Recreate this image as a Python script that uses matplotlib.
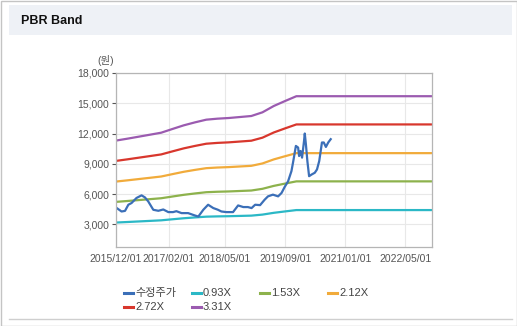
import pandas as pd
import matplotlib
matplotlib.use("Agg")
import matplotlib.pyplot as plt
import matplotlib.dates as mdates
from matplotlib.patches import Rectangle
from matplotlib.lines import Line2D

plt.rcParams['font.family'] = ['Liberation Sans', 'Noto Sans CJK KR', 'DejaVu Sans']

# adjusted share price (수정주가)
price_dates = ["2015-12-07", "2016-01-15", "2016-02-12", "2016-03-10", "2016-04-05", "2016-05-15",
               "2016-06-25", "2016-07-22", "2016-08-18", "2016-09-28", "2016-11-08", "2016-12-18",
               "2017-01-28", "2017-03-07", "2017-04-03", "2017-05-15", "2017-07-07", "2017-09-01",
               "2017-09-28", "2017-11-07", "2017-12-16", "2018-01-27", "2018-03-04", "2018-04-03",
               "2018-05-13", "2018-07-06", "2018-08-16", "2018-09-27", "2018-11-03", "2018-12-03",
               "2019-01-01", "2019-02-10", "2019-03-19", "2019-04-15", "2019-05-25", "2019-07-06",
               "2019-08-03", "2019-08-28", "2019-09-25", "2019-10-22", "2019-11-06", "2019-11-27",
               "2019-12-15", "2019-12-23", "2020-01-04", "2020-01-16", "2020-02-01", "2020-02-07",
               "2020-02-16", "2020-02-28", "2020-03-13", "2020-04-03", "2020-04-28", "2020-05-16",
               "2020-06-03", "2020-06-15", "2020-06-25", "2020-07-10", "2020-07-27", "2020-08-15",
               "2020-09-04"]
price = [4610, 4270, 4330, 4940, 5110, 5610,
         5870, 5670, 5270, 4440, 4340, 4470,
         4210, 4210, 4300, 4110, 4110, 3870,
         3770, 4440, 4940, 4610, 4450, 4270,
         4210, 4210, 4870, 4710, 4710, 4610,
         4940, 4900, 5440, 5770, 5940, 5770,
         6110, 6700, 7270, 8270, 9270, 10770,
         10610, 9770, 10270, 9610, 11270, 12000,
         10940, 9270, 7770, 7940, 8110, 8440,
         9270, 10270, 11110, 11110, 10670, 11110,
         11440]

# book value per share used for the bands
bps_dates = ["2015-12-01", "2016-03-01", "2016-06-01", "2016-09-01", "2016-12-01", "2017-03-01",
             "2017-06-01", "2017-09-01", "2017-12-01", "2018-03-01", "2018-06-01", "2018-09-01",
             "2018-12-01", "2019-03-01", "2019-06-01", "2019-09-01", "2019-12-01", "2022-12-01"]
bps = [3414, 3470, 3530, 3590, 3650, 3760,
       3870, 3960, 4040, 4070, 4090, 4120,
       4150, 4260, 4450, 4600, 4743, 4743]

multiples = [0.93, 1.53, 2.12, 2.72, 3.31]
band_labels = ["0.93X", "1.53X", "2.12X", "2.72X", "3.31X"]
band_colors = ["#2bb8c6", "#8db24c", "#f1ab3b", "#d8372d", "#9b5bb0"]
price_label = "수정주가"
price_color = "#3b6fb8"

y_ticks = [3000, 6000, 9000, 12000, 15000, 18000]
x_ticks = ["2015-12-01", "2017-02-01", "2018-05-01", "2019-09-01", "2021-01-01", "2022-05-01"]

W, H = 517, 326
fig = plt.figure(figsize=(W / 100, H / 100), dpi=100)

def fx(px):
    return px / W

def fy(py):
    return 1 - py / H

# page decoration
fig.patches.append(Rectangle((fx(0.5), fy(325.5)), fx(516), 325 / H, transform=fig.transFigure,
                             fill=False, edgecolor="#c4c4c4", lw=1))
fig.patches.append(Rectangle((fx(9), fy(35)), fx(503), 30 / H, transform=fig.transFigure,
                             facecolor="#eef1f6", edgecolor="none"))
fig.text(fx(21), fy(21), "PBR Band", fontsize=9, fontweight="bold", color="#111111", va="center")
fig.add_artist(Line2D([fx(9), fx(512)], [fy(318.5), fy(318.5)], transform=fig.transFigure,
                      color="#cfcfcf", lw=1))

ax = fig.add_axes([fx(116), fy(247), fx(431.7 - 116), (247 - 73) / H])

pd_price = pd.to_datetime(price_dates)
pd_bps = pd.to_datetime(bps_dates)

for m, lab, col in zip(multiples, band_labels, band_colors):
    ax.plot(pd_bps, [b * m for b in bps], color=col, lw=1.6, solid_capstyle="round")
ax.plot(pd_price, price, color=price_color, lw=1.6)

ax.set_xlim(pd.Timestamp("2015-12-01"), pd.Timestamp("2022-12-01"))
ax.set_ylim(750, 18000)
ax.set_yticks(y_ticks)
ax.set_yticklabels(["{:,}".format(v) for v in y_ticks])
ax.set_xticks(pd.to_datetime(x_ticks))
ax.xaxis.set_major_formatter(mdates.DateFormatter("%Y/%m/%d"))
ax.tick_params(axis="both", labelsize=7.5, colors="#555555", length=3, width=0.8, pad=2)
ax.tick_params(axis="x", length=0, pad=5)
ax.grid(True, color="#e8e8e8", lw=0.8)
ax.set_axisbelow(True)
for s in ax.spines.values():
    s.set_color("#b5b5b5")
    s.set_linewidth(0.9)

fig.text(fx(106), fy(61), "(원)", fontsize=7.5, color="#555555", ha="center", va="center")

# legend laid out as a 4-column grid
leg_items = [(price_label, price_color)] + list(zip(band_labels, band_colors))
for i, (lab, col) in enumerate(leg_items):
    r, c = divmod(i, 4)
    x0 = 124 + c * 68
    yy = 293 + r * 13.5
    fig.add_artist(Line2D([fx(x0), fx(x0 + 9)], [fy(yy), fy(yy)], transform=fig.transFigure,
                          color=col, lw=2.2))
    fig.text(fx(x0 + 11), fy(yy), lab, fontsize=8, color="#444444", va="center")

fig.savefig("out.png", dpi=100)
